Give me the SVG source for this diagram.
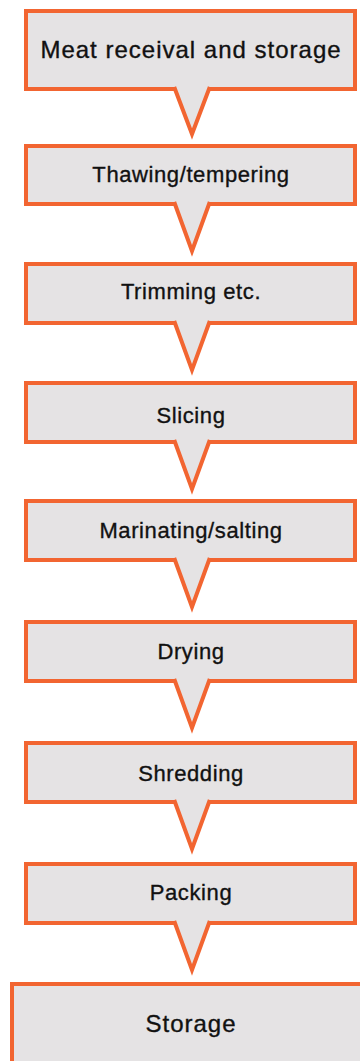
<svg xmlns="http://www.w3.org/2000/svg" width="360" height="1061" viewBox="0 0 360 1061">
  <style>
    .box { fill: #e5e3e4; stroke: #f26531; stroke-width: 4; }
    .ptr-fill { fill: #e5e3e4; stroke: none; }
    .ptr-edge { fill: none; stroke: #f26531; stroke-width: 4; stroke-linejoin: miter; stroke-miterlimit: 10; }
    .lbl { font-family: "Liberation Sans", Arial, sans-serif; font-size: 22px; letter-spacing: 0.6px; fill: #111; stroke: #111; stroke-width: 0.35px; text-anchor: middle; }
    .lbl-lg { font-size: 24px; letter-spacing: 1px; }
  </style>

  <!-- process steps -->
  <g id="step-meat-receival">
    <rect class="box" x="26" y="11" width="329" height="78"/>
    <text class="lbl lbl-lg" x="191" y="58">Meat receival and storage</text>
  </g>
  <g id="step-thawing">
    <rect class="box" x="26" y="146" width="329" height="58"/>
    <text class="lbl" x="191" y="182">Thawing/tempering</text>
  </g>
  <g id="step-trimming">
    <rect class="box" x="26" y="264" width="329" height="59"/>
    <text class="lbl" x="191" y="299">Trimming etc.</text>
  </g>
  <g id="step-slicing">
    <rect class="box" x="26" y="383" width="329" height="59"/>
    <text class="lbl" x="191" y="423">Slicing</text>
  </g>
  <g id="step-marinating">
    <rect class="box" x="26" y="501" width="329" height="59"/>
    <text class="lbl" x="191" y="538">Marinating/salting</text>
  </g>
  <g id="step-drying">
    <rect class="box" x="26" y="622" width="329" height="59"/>
    <text class="lbl" x="191" y="659">Drying</text>
  </g>
  <g id="step-shredding">
    <rect class="box" x="26" y="743" width="329" height="59"/>
    <text class="lbl" x="191" y="781">Shredding</text>
  </g>
  <g id="step-packing">
    <rect class="box" x="26" y="864" width="329" height="59"/>
    <text class="lbl" x="191" y="900">Packing</text>
  </g>
  <g id="step-storage">
    <rect class="box" x="12" y="984" width="360" height="90"/>
    <text class="lbl lbl-lg" x="191" y="1032">Storage</text>
  </g>

  <!-- downward pointers joining each step to the next -->
  <g id="connectors">
    <g>
      <polygon class="ptr-fill" points="173.5,86 210.5,86 192,134"/>
      <polyline class="ptr-edge" points="174.2,87 192,134 209.8,87"/>
    </g>
    <g>
      <polygon class="ptr-fill" points="173.5,201 210.5,201 192,251"/>
      <polyline class="ptr-edge" points="174.2,202 192,251 209.8,202"/>
    </g>
    <g>
      <polygon class="ptr-fill" points="173.5,320 210.5,320 192,370"/>
      <polyline class="ptr-edge" points="174.2,321 192,370 209.8,321"/>
    </g>
    <g>
      <polygon class="ptr-fill" points="173.5,439 210.5,439 192,489"/>
      <polyline class="ptr-edge" points="174.2,440 192,489 209.8,440"/>
    </g>
    <g>
      <polygon class="ptr-fill" points="173.5,557 210.5,557 192,607"/>
      <polyline class="ptr-edge" points="174.2,558 192,607 209.8,558"/>
    </g>
    <g>
      <polygon class="ptr-fill" points="173.5,678 210.5,678 192,728"/>
      <polyline class="ptr-edge" points="174.2,679 192,728 209.8,679"/>
    </g>
    <g>
      <polygon class="ptr-fill" points="173.5,799 210.5,799 192,849"/>
      <polyline class="ptr-edge" points="174.2,800 192,849 209.8,800"/>
    </g>
    <g>
      <polygon class="ptr-fill" points="173.5,920 210.5,920 192,970"/>
      <polyline class="ptr-edge" points="174.2,921 192,970 209.8,921"/>
    </g>
  </g>
</svg>
